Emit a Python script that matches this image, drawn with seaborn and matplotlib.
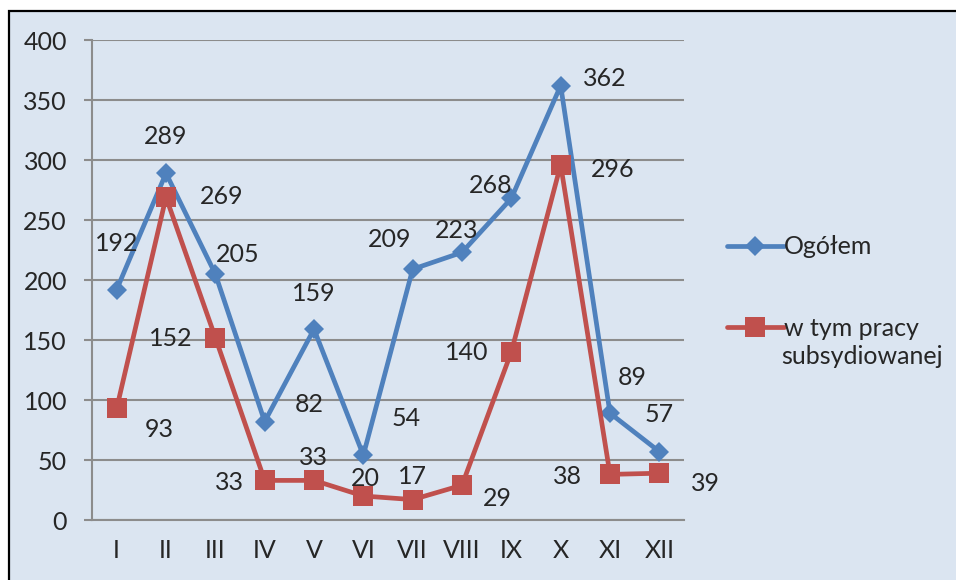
import numpy as np
import pandas as pd
import matplotlib
matplotlib.use('Agg')
import matplotlib.pyplot as plt
from matplotlib.patches import Rectangle
import seaborn as sns

# --- DATA ---
months = ['I', 'II', 'III', 'IV', 'V', 'VI', 'VII', 'VIII', 'IX', 'X', 'XI', 'XII']
ogolem = [192, 289, 205, 82, 159, 54, 209, 223, 268, 362, 89, 57]
subsyd = [93, 269, 152, 33, 33, 20, 17, 29, 140, 296, 38, 39]
name_all = 'Ogółem'
name_sub = 'w tym pracy'
name_sub2 = 'subsydiowanej'

# label offsets in pixels (dx, dy with y up) - as placed in the original
off_all = [(0, 46), (0, 37), (22, 20), (45, 17), (0, 36), (43, 37),
           (-23, 30), (-5, 22), (-21, 13), (44, 7), (22, 36), (0, 37)]
off_sub = [(43, -21), (56, 1), (-45, -1), (-35, -2), (-1, 23), (2, 18),
           (0, 23), (35, -13), (-45, -1), (52, -5), (-43, -2), (46, -10)]

BLUE = '#4f81bd'
RED = '#c0504d'
BG = '#dbe5f1'
GRID = '#8c8c8c'
FS = 18

x = np.arange(len(months))
df = pd.DataFrame({
    'x': np.concatenate([x, x]),
    'value': ogolem + subsyd,
    'series': [name_all] * len(x) + [name_sub] * len(x),
})

sns.set_style('white')
plt.rcParams['font.family'] = ['Lato', 'DejaVu Sans']

fig = plt.figure(figsize=(9.56, 5.8), dpi=100)
fig.patch.set_facecolor('white')
fig.patches.append(Rectangle((9 / 956, -0.01), 1.0, 1 - 11 / 580 + 0.01,
                             transform=fig.transFigure, facecolor=BG,
                             edgecolor='black', linewidth=1.6, zorder=-5))

ax = fig.add_axes([92 / 956, 60 / 580, (684 - 92) / 956, 480 / 580])
ax.set_facecolor('none')
ax.set_zorder(2)

sns.lineplot(data=df, x='x', y='value', hue='series', style='series',
             palette={name_all: BLUE, name_sub: RED},
             markers={name_all: 'D', name_sub: 's'}, dashes=False,
             linewidth=3.4, markersize=14, markeredgewidth=0, ax=ax, legend=True)

# diamond a bit smaller than the square
for line in ax.get_lines():
    if line.get_marker() == 'D':
        line.set_markersize(10.5)

for i in range(len(x)):
    ax.annotate(str(ogolem[i]), (x[i], ogolem[i]), xytext=off_all[i],
                textcoords='offset pixels', ha='center', va='center', fontsize=FS)
    ax.annotate(str(subsyd[i]), (x[i], subsyd[i]), xytext=off_sub[i],
                textcoords='offset pixels', ha='center', va='center', fontsize=FS)

ax.set_xlim(-0.5, len(x) - 0.5)
ax.set_ylim(0, 400)
ax.set_yticks(np.arange(0, 401, 50))
ax.set_xticks(x)
ax.set_xticklabels(months)
ax.set_xticks(np.arange(-0.5, len(x), 1), minor=True)
ax.tick_params(axis='x', which='major', length=0, pad=14, labelsize=FS)
ax.tick_params(axis='x', which='minor', length=6, width=1.5, color=GRID, direction='out')
ax.tick_params(axis='y', length=6, width=1.5, color=GRID, pad=12, labelsize=FS, left=True)
ax.yaxis.grid(True, color=GRID, linewidth=1.5)
ax.set_axisbelow(True)
ax.set_xlabel('')
ax.set_ylabel('')
for s in ['top', 'right']:
    ax.spines[s].set_visible(False)
for s in ['left', 'bottom']:
    ax.spines[s].set_color(GRID)
    ax.spines[s].set_linewidth(1.5)

handles, labels = ax.get_legend_handles_labels()
ax.legend(handles, labels, loc='upper left', bbox_to_anchor=(714 / 956, 1 - 223 / 580),
          bbox_transform=fig.transFigure, frameon=False, fontsize=FS,
          handlelength=2.3, handletextpad=0.0, labelspacing=2.35, borderpad=0)
# second line of the red series' legend label
fig.text(781 / 956, 1 - 357 / 580, name_sub2, fontsize=FS, ha='left', va='center')

fig.savefig('out.png', dpi=100)
